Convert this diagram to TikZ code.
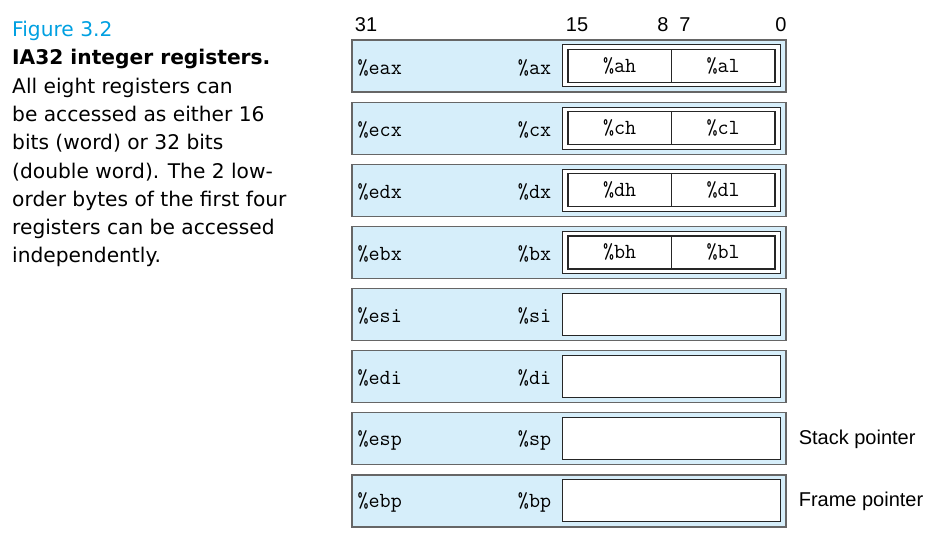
\documentclass[tikz,border=0pt]{standalone}
\usepackage{fontspec}
\setmainfont{DejaVu Sans}
\newfontfamily\helv{Liberation Sans}
\usetikzlibrary{positioning,calc}
\definecolor{regblue}{RGB}{214,238,250}
\definecolor{figcyan}{RGB}{0,160,225}

\begin{document}
\begin{tikzpicture}[
    x=1pt, y=-1pt,
    reg/.style ={
        draw=black!60,
        fill=regblue,
        line width=1.2pt,
        minimum width=434pt,
        minimum height=52pt,
        inner sep=0pt
    },
    half/.style ={
        draw=black!85,
        fill=white,
        line width=1pt,
        minimum width=218pt,
        minimum height=42pt,
        inner sep=0pt
    },
    byte/.style ={
        draw=black!85,
        line width=1.2pt,
        minimum width=103.5pt,
        minimum height=33pt,
        inner sep=0pt,
        outer sep=0pt,
        font=\fontsize{21.5}{24}\ttfamily
    },
    tt/.style ={font=\fontsize{21.5}{24}\ttfamily, inner sep=0pt},
    bit/.style ={font=\fontsize{20}{24}\helv, inner sep=0pt},
    captext/.style ={font=\fontsize{20.2}{28.3}\selectfont, align=left, inner sep=0pt}
    ]

    \useasboundingbox (0,0) rectangle (940,540);

    % caption
    \node[captext, anchor=north west] (caption) at (12,21) {\textcolor{figcyan}{Figure 3.2}\\
        \textbf{IA32 integer registers.}\\
        All eight registers can\\
        be accessed as either 16\\
        bits (word) or 32 bits\\
        (double word). The 2 low-\\
        order bytes of the first four\\
        registers can be accessed\\
        independently.};

    % registers
    \foreach \i/\long/\word in {1/eax/ax, 2/ecx/cx, 3/edx/dx, 4/ebx/bx, 5/esi/si, 6/edi/di, 7/esp/sp, 8/ebp/bp} {
        \node[reg] (r\i) at (569, {66+62.14*(\i-1)}) {};
        \node[tt, anchor=west] (l\i) at ($(r\i.west)+(6,1.5)$) {\%\long};
        \node[tt, anchor=east] (w\i) at ($(r\i.west)+(200,1.5)$) {\%\word};
        \node[half] (x\i) at ($(r\i.west)+(320.5,0)$) {};
    }

    % low-order bytes
    \foreach \i/\hi/\lo in {1/ah/al, 2/ch/cl, 3/dh/dl, 4/bh/bl} {
        \node[byte, anchor=west] (h\i) at ($(x\i.west)+(5.5,0)$) {\%\hi};
        \node[byte, right=0pt of h\i] (b\i) {\%\lo};
    }

    % bit numbers
    \node[bit] (n31) at (366,25) {31};
    \node[bit] (n15) at (577,25) {15};
    \node[bit] (n8) at (663,25) {8};
    \node[bit] (n7) at (685,25) {7};
    \node[bit] (n0) at (781,25) {0};

    \node[bit, anchor=west, right=12pt of r7] (sp) {Stack pointer};
    \node[bit, anchor=west, right=12pt of r8] (fp) {Frame pointer};
\end{tikzpicture}
\end{document}
